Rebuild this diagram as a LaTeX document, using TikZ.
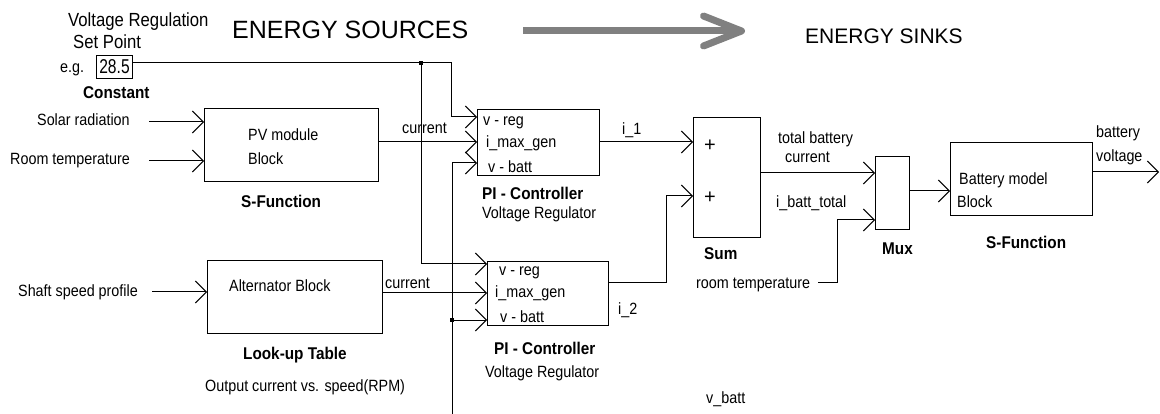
\documentclass[tikz,border=0pt]{standalone}
\usepackage{fontspec}
\setmainfont{Liberation Sans}
\newfontfamily\cond{Liberation Sans}[FakeStretch=0.88]
\newfontfamily\condb{Liberation Sans}[FakeStretch=0.9]
\newfontfamily\condd{Liberation Sans}[FakeStretch=0.78]
\usetikzlibrary{arrows.meta}
\begin{document}
\begin{tikzpicture}[x=1pt,y=-1pt,
  lbl/.style={anchor=west, inner sep=0pt, text height=12pt, text depth=0pt, font=\cond\fontsize{16.3}{18}\selectfont},
  lblb/.style={anchor=west, inner sep=0pt, text height=12.5pt, text depth=0pt, font=\condb\fontsize{17}{19}\selectfont\bfseries},
  lblbig/.style={anchor=west, inner sep=0pt, text height=14pt, text depth=0pt, font=\cond\fontsize{19}{21}\selectfont},
  blk/.style={draw, line width=1pt, anchor=north west, inner sep=0pt},
  wire/.style={line width=1pt},
  arr/.style={wire, -{Straight Barb[length=11pt,width=22pt]}},
  dot/.style={fill, rectangle, minimum size=4.5pt, inner sep=0pt},
  bigarr/.style={draw=gray, line width=7pt, -{Straight Barb[length=38pt,width=30pt,line cap=round,line join=round]}}
]
\useasboundingbox (0,0) rectangle (1160,414);

% titles
\node[anchor=west, inner sep=0pt, text height=18pt, text depth=0pt, font=\fontsize{25}{28}\selectfont] (tsrc) at (232,29.5) {ENERGY SOURCES};
\node[anchor=west, inner sep=0pt, text height=15pt, text depth=0pt, font=\fontsize{21}{24}\selectfont] (tsink) at (805,36) {ENERGY SINKS};
\coordinate (ga) at (523,31);
\coordinate (gb) at (745,31);
\draw[bigarr] (ga) -- (gb);

% constant
\node[lblbig] (vr1) at (68,19.5) {Voltage Regulation};
\node[lblbig] (vr2) at (73,42) {Set Point};
\node[lbl] (eg) at (60,67) {e.g.};
\node[blk, minimum width=36pt, minimum height=23pt] (const) at (96,55) {};
\node[anchor=center, inner sep=0pt, font=\condd\fontsize{20}{22}\selectfont] (cval) at (const.center) {28.5};
\node[lblb] (constlbl) at (83,92) {Constant};

% PV block
\node[lbl] (solar) at (37,120) {Solar radiation};
\node[lbl] (roomt) at (10,159) {Room temperature};
\node[blk, minimum width=174pt, minimum height=73pt] (pv) at (204,108) {};
\node[lbl] (pvt1) at (248,135) {PV module};
\node[lbl] (pvt2) at (248,159) {Block};
\node[lblb] (pvlbl) at (241,201) {S-Function};
\node[lbl] (pvcur) at (402,128) {current};

% alternator
\node[lbl] (shaft) at (18,291) {Shaft speed profile};
\node[blk, minimum width=175pt, minimum height=73pt] (alt) at (207,260) {};
\node[lbl] (altt) at (229,285) {Alternator Block};
\node[lbl] (altcur) at (385,282) {current};
\node[lblb] (altlbl) at (243,353) {Look-up Table};
\node[lbl] (altsub) at (205,385) {Output current vs. speed(RPM)};

% PI controller 1
\node[blk, minimum width=122pt, minimum height=66pt] (pi1) at (477,109) {};
\node[lbl] (p1a) at (483,120) {v - reg};
\node[lbl] (p1b) at (486,142) {i\_max\_gen};
\node[lbl] (p1c) at (488,167) {v - batt};
\node[lblb] (p1l) at (482,193) {PI - Controller};
\node[lbl] (p1s) at (482,213) {Voltage Regulator};
\node[lbl] (i1) at (622,129) {i\_1};

% PI controller 2
\node[blk, minimum width=121pt, minimum height=64pt] (pi2) at (487,261) {};
\node[lbl] (p2a) at (499,270) {v - reg};
\node[lbl] (p2b) at (495,292) {i\_max\_gen};
\node[lbl] (p2c) at (500,317) {v - batt};
\node[lblb] (p2l) at (494,348) {PI - Controller};
\node[lbl] (p2s) at (485,371) {Voltage Regulator};
\node[lbl] (i2) at (618,308) {i\_2};
\node[lbl] (vbatt) at (706,397) {v\_batt};

% sum
\node[blk, minimum width=67pt, minimum height=120pt] (sum) at (693,117) {};
\node[anchor=center, inner sep=0pt, font=\fontsize{20}{22}\selectfont] (plus1) at (710,146) {+};
\node[anchor=center, inner sep=0pt, font=\fontsize{20}{22}\selectfont] (plus2) at (710,198) {+};
\node[lblb] (sumlbl) at (704,253) {Sum};

% mux
\node[lbl] (tb1) at (778,138) {total battery};
\node[lbl] (tb2) at (785,157) {current};
\node[lbl] (ibt) at (776,202) {i\_batt\_total};
\node[lbl] (rt2) at (696,283) {room temperature};
\node[blk, minimum width=34pt, minimum height=73pt] (mux) at (875,156) {};
\node[lblb] (muxlbl) at (882,248) {Mux};

% battery
\node[blk, minimum width=142pt, minimum height=73pt] (bat) at (950,142) {};
\node[lbl] (bt1) at (959,179) {Battery model};
\node[lbl] (bt2) at (957,202) {Block};
\node[lblb] (batlbl) at (986,242) {S-Function};
\node[lbl] (bv1) at (1096,132) {battery};
\node[lbl] (bv2) at (1096,156) {voltage};

% ports
\coordinate (c-out) at (132,63);
\coordinate (j1) at (421,63);
\coordinate (k1) at (451,63);
\coordinate (pi1-vreg) at (477,117);
\coordinate (pi1-imax) at (477,142);
\coordinate (pi1-vbatt) at (477,163);
\coordinate (pi1-out) at (599,142);
\coordinate (pi2-vreg) at (487,264);
\coordinate (pi2-imax) at (487,293);
\coordinate (pi2-vbatt) at (487,320);
\coordinate (pi2-out) at (608,283);
\coordinate (vb-bot) at (452,414);
\coordinate (j2) at (452,320);
\coordinate (pv-in1s) at (149,122);
\coordinate (pv-in1) at (204,122);
\coordinate (pv-in2s) at (149,161);
\coordinate (pv-in2) at (204,161);
\coordinate (pv-out) at (378,142);
\coordinate (alt-ins) at (152,292);
\coordinate (alt-in) at (207,292);
\coordinate (alt-out) at (382,293);
\coordinate (sum-in1) at (693,142);
\coordinate (sum-in2) at (693,196);
\coordinate (k2) at (666,283);
\coordinate (sum-out) at (760,173);
\coordinate (mux-in1) at (875,173);
\coordinate (mux-in2) at (875,220);
\coordinate (rt-end) at (818,283);
\coordinate (k3) at (837,283);
\coordinate (mux-out) at (909,191);
\coordinate (bat-in) at (950,191);
\coordinate (bat-out) at (1092,172);
\coordinate (vout) at (1159,172);

% wires
\draw[wire] (c-out) -- (j1);
\draw[arr] (j1) -- (k1) |- (pi1-vreg);
\draw[arr] (j1) |- (pi2-vreg);
\draw[arr] (pv-in1s) -- (pv-in1);
\draw[arr] (pv-in2s) -- (pv-in2);
\draw[arr] (pv-out) -- (pi1-imax);
\draw[arr] (vb-bot) |- (pi1-vbatt);
\draw[arr] (j2) -- (pi2-vbatt);
\draw[arr] (alt-ins) -- (alt-in);
\draw[arr] (alt-out) -- (pi2-imax);
\draw[arr] (pi1-out) -- (sum-in1);
\draw[arr] (pi2-out) -- (k2) |- (sum-in2);
\draw[arr] (sum-out) -- (mux-in1);
\draw[arr] (rt-end) -- (k3) |- (mux-in2);
\draw[arr] (mux-out) -- (bat-in);
\draw[arr] (bat-out) -- (vout);
\node[dot] (d1) at (j1) {};
\node[dot] (d2) at (j2) {};
\end{tikzpicture}
\end{document}
